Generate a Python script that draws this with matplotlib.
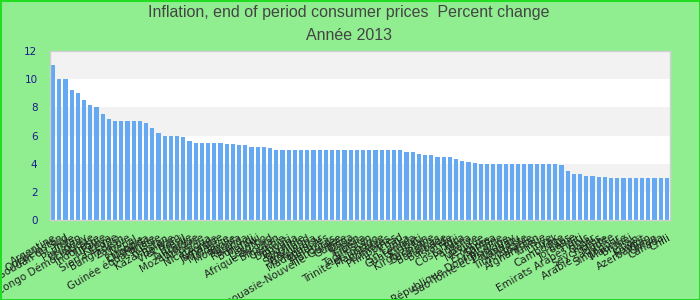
import matplotlib
matplotlib.use("Agg")
import matplotlib.pyplot as plt
from matplotlib.patches import Rectangle

title = "Inflation, end of period consumer prices  Percent change"
subtitle = "Année 2013"

countries = [
    "Argentine", "Ouzbékistan", "Soudan du Sud", "Inde", "Pakistan",
    "Uruguay", "Rép. du Congo Démocratique", "Indonésie", "Turquie", "Kenya",
    "Sierra Leone", "Bangladesh", "Zambie", "Népal", "Éthiopie",
    "Ouganda", "Guinée équatoriale", "Russie", "Kazakhstan", "Bolivie",
    "Viet Nam", "Brésil", "Tanzanie", "Mozambique", "Arménie",
    "Nicaragua", "Géorgie", "Jamaïque", "Moldavie", "Mongolie",
    "Angola", "Rwanda", "Burundi", "Malawi", "Lesotho",
    "Afrique du Sud", "Bhoutan", "Gambie", "Djibouti", "Guyana",
    "Namibie", "Swaziland", "Botswana", "Madagascar", "Maldives",
    "Honduras", "Papouasie-Nouvelle-Guinée", "Guinée", "Tonga", "Yémen",
    "Liberia", "Tadjikistan", "Trinité-et-Tobago", "Mauritanie", "Comores",
    "Philippines", "Tchad", "Sri Lanka", "Guatemala", "Kiribati",
    "Kirghizistan", "Suriname", "Bahamas", "Barbade", "Islande",
    "Fidji", "Costa Rica", "Panama", "Belize", "Mexique",
    "Érythrée", "Samoa", "République Dominicaine", "Sao Tomé-et-Principe", "Paraguay",
    "Vanuatu", "Timor-Leste", "Albanie", "Afghanistan", "Tunisie",
    "Libye", "Irak", "Cambodge", "Laos", "Jordanie",
    "Haïti", "Emirats Arabes Unis", "Qatar", "Seychelles", "Malte",
    "Arabie saoudite", "Singapour", "Maurice", "Brunéi", "Liban",
    "Koweït", "Azerbaïdjan", "Oman", "Canada", "Chili",
]

values = [
    11.0, 10.0, 10.0, 9.2, 9.0, 8.5, 8.2, 8.0, 7.5, 7.2,
    7.0, 7.0, 7.0, 7.0, 7.0, 6.9, 6.5, 6.2, 6.0, 6.0,
    6.0, 5.9, 5.6, 5.5, 5.5, 5.5, 5.5, 5.5, 5.4, 5.4,
    5.35, 5.3, 5.2, 5.2, 5.2, 5.1, 5.0, 5.0, 5.0, 5.0,
    5.0, 5.0, 5.0, 5.0, 5.0, 5.0, 5.0, 5.0, 5.0, 5.0,
    5.0, 5.0, 5.0, 5.0, 5.0, 5.0, 5.0, 4.85, 4.8, 4.7,
    4.6, 4.6, 4.5, 4.5, 4.5, 4.3, 4.2, 4.1, 4.05, 4.0,
    4.0, 4.0, 4.0, 4.0, 4.0, 4.0, 4.0, 4.0, 4.0, 4.0,
    4.0, 4.0, 3.9, 3.5, 3.3, 3.3, 3.1, 3.1, 3.05, 3.05,
    3.0, 3.0, 3.0, 3.0, 3.0, 3.0, 3.0, 3.0, 3.0, 3.0,
]

y_ticks = [0, 2, 4, 6, 8, 10, 12]

fig = plt.figure(figsize=(7, 3), dpi=100, facecolor="#90ee90")
ax = fig.add_axes([50/700, 1-220/300, 620/700, 169/300])
ax.set_facecolor("white")

# alternating bands
for i in range(len(y_ticks) - 1):
    if i % 2 == 1:
        ax.axhspan(y_ticks[i], y_ticks[i+1], color="#f2f2f2", zorder=0, lw=0)

x = list(range(len(values)))
ax.bar(x, values, width=0.65, color="#64a9f1", zorder=2)

ax.set_xlim(-0.5, len(values) - 0.5)
ax.set_ylim(0, 12)
ax.set_yticks(y_ticks)
ax.set_yticklabels([str(t) for t in y_ticks], color="#1a1a8c", fontsize=7.5,
                   family="DejaVu Sans")
ax.tick_params(axis="y", length=0, pad=9)
ax.set_xticks(x)
ax.set_xticklabels(countries, rotation=30, ha="right", rotation_mode="anchor",
                   fontsize=7.5, color="#222222", family="DejaVu Sans")
ax.tick_params(axis="x", length=0, pad=9)
for s in ax.spines.values():
    s.set_color("#d0d0d0")
    s.set_linewidth(1)

fig.text(349/700, 1-12/300, title, ha="center", va="center",
         fontsize=11.5, color="#444444", family="Liberation Sans")
fig.text(349/700, 1-36/300, subtitle, ha="center", va="center",
         fontsize=11.5, color="#444444", family="Liberation Sans")

fig.patches.append(Rectangle((0.5/700, 0.5/300), 1-1/700, 1-1/300,
                             transform=fig.transFigure, fill=False,
                             edgecolor="#22dd22", linewidth=1.5))

fig.savefig("out.png", dpi=100, facecolor=fig.get_facecolor())
